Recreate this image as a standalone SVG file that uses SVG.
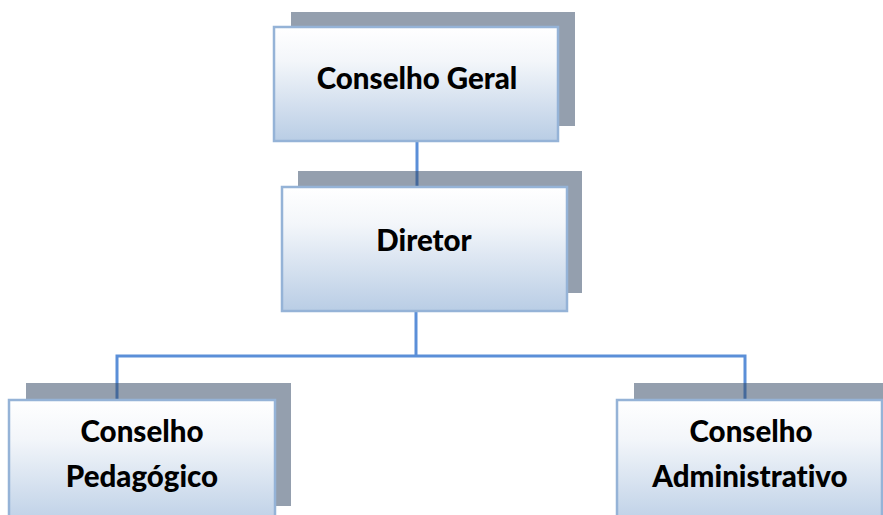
<svg xmlns="http://www.w3.org/2000/svg" width="883" height="515" viewBox="0 0 883 515">
<defs>
<linearGradient id="g" x1="0" y1="0" x2="0" y2="1">
<stop offset="0" stop-color="#ffffff"/>
<stop offset="0.3" stop-color="#f3f6fa"/>
<stop offset="1" stop-color="#b9cde5"/>
</linearGradient>
<style>
.shadow{fill:#324764;fill-opacity:0.52}
.box{fill:url(#g);stroke:#95b3d7;stroke-width:2.5}
.conn{fill:none;stroke:#5b8fd8;stroke-width:3}
text{font-family:Lato,"Liberation Sans",sans-serif;font-weight:900;font-size:29.5px;fill:#000;text-anchor:middle;font-variant-ligatures:none}
</style>
</defs>
<rect width="883" height="515" fill="#ffffff"/>
<g id="connectors">
<line class="conn" x1="417" y1="141" x2="417" y2="187"/>
<line class="conn" x1="416" y1="311" x2="416" y2="356"/>
<polyline class="conn" points="117,400 117,356 745,356 745,400"/>
</g>
<g id="conselho-geral">
<rect class="shadow" x="291" y="12" width="284" height="114"/>
<rect class="box" x="274" y="27" width="284" height="114"/>
<text x="417" y="89">Conselho Geral</text>
</g>
<g id="diretor">
<rect class="shadow" x="298" y="171" width="284" height="122"/>
<rect class="box" x="282" y="187" width="285" height="124"/>
<text x="424" y="251">Diretor</text>
</g>
<g id="conselho-pedagogico">
<rect class="shadow" x="26" y="383" width="265" height="123"/>
<rect class="box" x="9" y="400" width="266" height="130"/>
<text x="142" y="442">Conselho</text>
<text x="142" y="487">Pedagógico</text>
</g>
<g id="conselho-administrativo">
<rect class="shadow" x="634" y="383" width="260" height="123"/>
<rect class="box" x="617" y="400" width="265" height="130"/>
<text x="751" y="442">Conselho</text>
<text x="750" y="487">Administrativo</text>
</g>
</svg>
